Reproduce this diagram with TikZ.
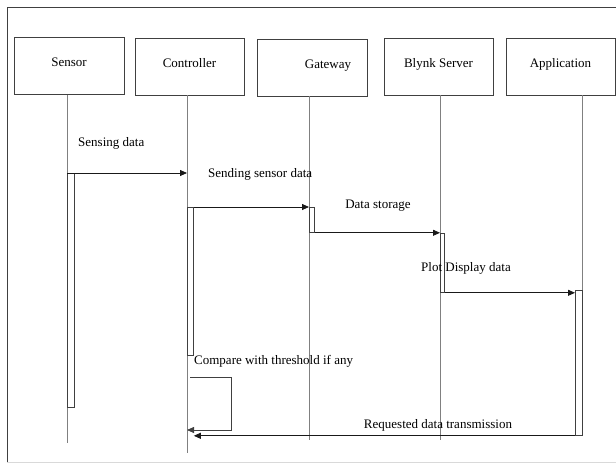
\documentclass[tikz,border=0pt]{standalone}
\usepackage{fontspec}
\setmainfont{Liberation Serif}
\usetikzlibrary{calc,positioning}
\usetikzlibrary{arrows.meta}

\definecolor{boxgray}{gray}{0.25}
\definecolor{linegray}{gray}{0.5}

\begin{document}
\begin{tikzpicture}[%
    x=1pt, y=-1pt,
    text=black,
    node font=\fontsize{13}{15}\selectfont,
    >={Triangle[length=7pt,width=6pt]},
    actor/.style={rectangle, draw=boxgray, thick, minimum width=110pt,
      minimum height=57pt, inner sep=0, text height=9pt, text depth=8pt},
    bar/.style={rectangle, draw=boxgray, thick, fill=white, inner sep=0,
      anchor=north west},
    life/.style={draw=linegray, thick},
    msg/.style={->, thick, black!90},
    lbl/.style={inner sep=0}]

  \useasboundingbox (0,0) rectangle (616,466);

  % frame
  \draw[boxgray, line width=1pt] (616,7) -- (7,7) -- (7,463);
  \draw[black!15] (7,462) -- (616,462);

  % --- actors ------------------------
  \node (SEN) at (69,66) [actor] {Sensor};
  \node (CTL) at (189.5,66.5) [actor, minimum width=109pt] {Controller};
  \node (GW) at (312,67.5) [actor] {\hspace*{32pt}Gateway};
  \node (BLK) at (438.5,66.5) [actor, minimum width=109pt] {Blynk Server};
  \node (APP) at (560.5,66.5) [actor, minimum width=109pt] {Application};

  % lifelines
  \coordinate (SENe) at (67,443);
  \coordinate (CTLe) at (187,453);
  \coordinate (GWe) at (309,440);
  \coordinate (BLKe) at (440,440);
  \coordinate (APPe) at (582,435);
  \draw[life] (SEN.south -| SENe) -- (SENe);
  \draw[life] (CTL.south -| CTLe) -- (CTLe);
  \draw[life] (GW.south -| GWe) -- (GWe);
  \draw[life] (BLK.south -| BLKe) -- (BLKe);
  \draw[life] (APP.south -| APPe) -- (APPe);

  % --- activations -------------------
  \node (SB) at (67,173) [bar, minimum width=7pt, minimum height=234pt] {};
  \node (CB) at (187,207) [bar, minimum width=6pt, minimum height=148pt] {};
  \node (GB) at (309,207) [bar, minimum width=5pt, minimum height=25pt] {};
  \node (BB) at (440,233) [bar, minimum width=4pt, minimum height=59pt] {};
  \node (AB) at (575,290) [bar, minimum width=7pt, minimum height=145pt] {};

  % --- messages ----------------------
  \draw[msg] (SB.north west) -- (SB.north west -| CTLe);
  \node (M1) at (78,143) [lbl, anchor=west] {Sensing data};

  \draw[msg] (CB.north east) -- (CB.north east -| GWe);
  \node (M2) at (208,174) [lbl, anchor=west] {Sending sensor data};

  \draw[msg] (GB.south east) -- (GB.south east -| BLKe);
  \node (M3) at (378,206) [lbl] {Data storage};

  \draw[msg] (BB.south east) -- (BB.south east -| AB.west);
  \node (M4) at (466,268) [lbl] {Plot Display data};

  % self check
  \coordinate (L1) at (190,377);
  \coordinate (L2) at (231,430);
  \draw[msg, draw=boxgray] (L1) -- (L1 -| L2) -- (L2) -- (L2 -| CTLe);
  \node (M5) at (194,361) [lbl, anchor=west] {Compare with threshold if any};

  % reply
  \draw[msg] (AB.south west) -- (AB.south west -| CB.east);
  \node (M6) at (438,425) [lbl] {Requested data transmission};
\end{tikzpicture}
\end{document}
